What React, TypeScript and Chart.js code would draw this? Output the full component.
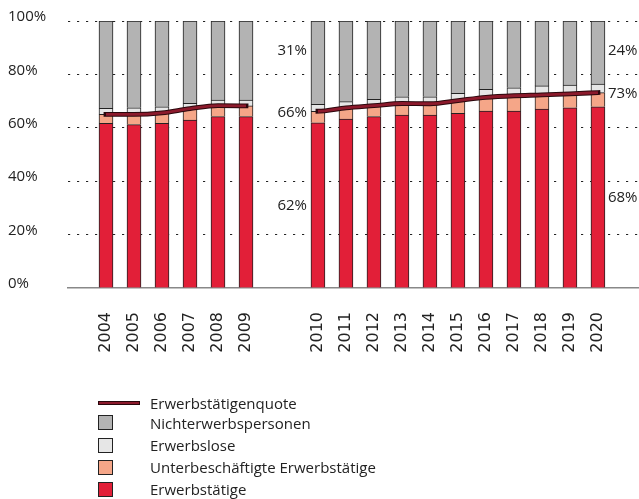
import React, { useEffect, useRef } from 'react';
import { Chart, registerables } from 'chart.js';

Chart.register(...registerables);

// ---- data ----
const YEARS_A = ['2004', '2005', '2006', '2007', '2008', '2009'];
const YEARS_B = ['2010', '2011', '2012', '2013', '2014', '2015', '2016', '2017', '2018', '2019', '2020'];
const YEARS = [...YEARS_A, ...YEARS_B];

const ERWERBSTAETIGE = [61.7, 61.2, 61.7, 62.9, 64.2, 64.2, 61.9, 63.3, 64.2, 64.8, 64.8, 65.4, 66.3, 66.3, 67.0, 67.5, 67.9];
const UNTERBESCHAEFTIGTE = [3.3, 3.8, 3.9, 4.3, 4.1, 4.0, 4.3, 4.2, 4.1, 4.3, 4.2, 4.8, 5.1, 5.7, 5.3, 5.2, 5.3];
const ERWERBSLOSE = [2.3, 2.5, 2.3, 2.0, 2.1, 2.2, 2.6, 2.3, 2.4, 2.5, 2.6, 2.7, 3.0, 3.0, 3.4, 3.3, 3.2];
const NICHTERWERBS = [32.7, 32.5, 32.1, 30.8, 29.6, 29.6, 31.2, 30.2, 29.3, 28.4, 28.4, 27.1, 25.6, 25.0, 24.3, 24.0, 23.6];
const QUOTE = [65.0, 65.0, 65.6, 67.2, 68.3, 68.2, 66.2, 67.5, 68.3, 69.1, 69.0, 70.2, 71.4, 72.0, 72.3, 72.7, 73.2];

const Y_TICKS = [0, 20, 40, 60, 80, 100];

const LBL_QUOTE = 'Erwerbstätigenquote';
const LBL_NICHT = 'Nichterwerbspersonen';
const LBL_LOS = 'Erwerbslose';
const LBL_UNTER = 'Unterbeschäftigte Erwerbstätige';
const LBL_ERW = 'Erwerbstätige';

// ---- layout / style ----
const GROUP_GAP = 2.57; // gap between the two year groups, in bar steps
const POS = YEARS.map((_, i) => (i < YEARS_A.length ? i : i + GROUP_GAP - 1));
const X_MIN = -1.357;
const X_MAX = 19.036;
const GREY_LABEL_AT = 88.7;

const C_RED = '#e21f38';
const C_ORANGE = '#f5a688';
const C_LIGHT = '#e6e6e6';
const C_GREY = '#b3b3b3';
const C_LINE = '#8c1a2c';
const C_LINE_EDGE = '#2a070c';
const C_EDGE = '#222';
const FONT = '"Open Sans", "DejaVu Sans", sans-serif';

const xy = (vals: number[]) => vals.map((y, i) => ({ x: POS[i], y }));

const annotations = {
  id: 'annotations',
  afterDatasetsDraw(chart: any) {
    const { ctx, scales } = chart;
    const x = scales.x;
    const y = scales.y;
    ctx.save();
    ctx.font = '15px "Open Sans"';
    ctx.fillStyle = '#222';
    ctx.textBaseline = 'middle';
    const draw = (i: number, align: CanvasTextAlign, dx: number) => {
      const px = x.getPixelForValue(POS[i]) + dx;
      ctx.textAlign = align;
      ctx.fillText(`${Math.round(NICHTERWERBS[i])}%`, px, y.getPixelForValue(GREY_LABEL_AT));
      ctx.fillText(`${Math.round(QUOTE[i])}%`, px, y.getPixelForValue(QUOTE[i]) + 1);
      ctx.fillText(`${Math.round(ERWERBSTAETIGE[i])}%`, px, y.getPixelForValue(ERWERBSTAETIGE[i] / 2));
    };
    draw(YEARS_A.length, 'right', -11);
    draw(YEARS.length - 1, 'left', 10);
    ctx.restore();
  },
};

const LEGEND = [
  { label: LBL_QUOTE, kind: 'line', color: C_LINE, center: 402.7 },
  { label: LBL_NICHT, kind: 'box', color: C_GREY, center: 422.5 },
  { label: LBL_LOS, kind: 'box', color: C_LIGHT, center: 445 },
  { label: LBL_UNTER, kind: 'box', color: C_ORANGE, center: 467 },
  { label: LBL_ERW, kind: 'box', color: C_RED, center: 489 },
];

export default function App() {
  const ref = useRef<HTMLCanvasElement | null>(null);

  useEffect(() => {
    if (!ref.current) return;
    const bar = (label: string, vals: number[], color: string) => ({
      type: 'bar' as const,
      label,
      data: xy(vals),
      backgroundColor: color,
      borderColor: C_EDGE,
      borderWidth: 1,
      barThickness: 14,
      stack: 'bars',
      order: 2,
    });
    const chart = new Chart(ref.current, {
      type: 'bar',
      data: {
        datasets: [
          {
            type: 'line',
            label: LBL_QUOTE,
            data: xy(QUOTE),
            borderColor: C_LINE,
            borderWidth: 2.8,
            pointRadius: 0,
            cubicInterpolationMode: 'monotone',
            spanGaps: 1.5,
            borderCapStyle: 'butt',
            stack: 'q2',
            order: 0,
          } as any,
          {
            type: 'line',
            label: LBL_QUOTE + ' outline',
            data: xy(QUOTE),
            borderColor: C_LINE_EDGE,
            borderWidth: 4.8,
            pointRadius: 0,
            cubicInterpolationMode: 'monotone',
            spanGaps: 1.5,
            borderCapStyle: 'square',
            stack: 'q1',
            order: 1,
          } as any,
          bar(LBL_ERW, ERWERBSTAETIGE, C_RED),
          bar(LBL_UNTER, UNTERBESCHAEFTIGTE, C_ORANGE),
          bar(LBL_LOS, ERWERBSLOSE, C_LIGHT),
          bar(LBL_NICHT, NICHTERWERBS, C_GREY),
        ] as any,
      },
      options: {
        responsive: false,
        animation: false,
        events: [],
        layout: { padding: { left: 8, top: 21, right: 0, bottom: 0 } },
        plugins: { legend: { display: false }, tooltip: { enabled: false } },
        scales: {
          x: {
            type: 'linear',
            stacked: true,
            offset: false,
            min: X_MIN,
            max: X_MAX,
            afterBuildTicks: (s: any) => {
              s.ticks = POS.map((v) => ({ value: v }));
            },
            afterFit: (s: any) => {
              s.height = 82;
              s.paddingLeft = 0;
              s.paddingRight = 0;
            },
            ticks: {
              autoSkip: false,
              maxRotation: 90,
              minRotation: 90,
              padding: 24,
              callback: (_v: any, i: number) => YEARS[i],
              font: { family: '"DejaVu Sans"', size: 16 },
              color: '#222',
            },
            grid: { display: false, drawTicks: false, offset: false },
            border: { display: true, color: '#888', width: 1.5 },
          },
          y: {
            type: 'linear',
            stacked: true,
            min: 0,
            max: 100,
            afterBuildTicks: (s: any) => {
              s.ticks = Y_TICKS.map((v) => ({ value: v }));
            },
            afterFit: (s: any) => {
              s.width = 60;
            },
            ticks: {
              callback: (v: any) => `${v}%`,
              crossAlign: 'far',
              labelOffset: -4,
              padding: 0,
              font: { family: '"Open Sans"', size: 15 },
              color: '#222',
            },
            grid: {
              color: (c: any) => (c.tick && c.tick.value === 0 ? 'rgba(0,0,0,0)' : '#222'),
              lineWidth: 1,
              drawTicks: false,
            },
            border: { display: false, dash: [2.2, 6.8] },
          },
        },
      } as any,
      plugins: [annotations],
    });
    return () => chart.destroy();
  }, []);

  return (
    <div style={{ position: 'fixed', left: 0, top: 0, width: 639, height: 499, background: '#fff' }}>
      <canvas ref={ref} width={639} height={370} style={{ display: 'block', width: 639, height: 370 }} />
      {LEGEND.map((it) => (
        <React.Fragment key={it.label}>
          {it.kind === 'line' ? (
            <div
              style={{
                position: 'absolute',
                left: 98,
                top: it.center - 2,
                width: 40,
                height: 2,
                background: it.color,
                border: `1px solid ${C_LINE_EDGE}`,
                boxSizing: 'content-box',
              }}
            />
          ) : (
            <div
              style={{
                position: 'absolute',
                left: 98,
                top: it.center - 7.5,
                width: 15,
                height: 15,
                background: it.color,
                border: `1.5px solid ${C_EDGE}`,
                boxSizing: 'border-box',
              }}
            />
          )}
          <div
            style={{
              position: 'absolute',
              left: 150,
              top: it.center - 11,
              height: 22,
              lineHeight: '22px',
              fontFamily: FONT,
              fontSize: 15,
              color: '#222',
              whiteSpace: 'nowrap',
            }}
          >
            {it.label}
          </div>
        </React.Fragment>
      ))}
    </div>
  );
}
